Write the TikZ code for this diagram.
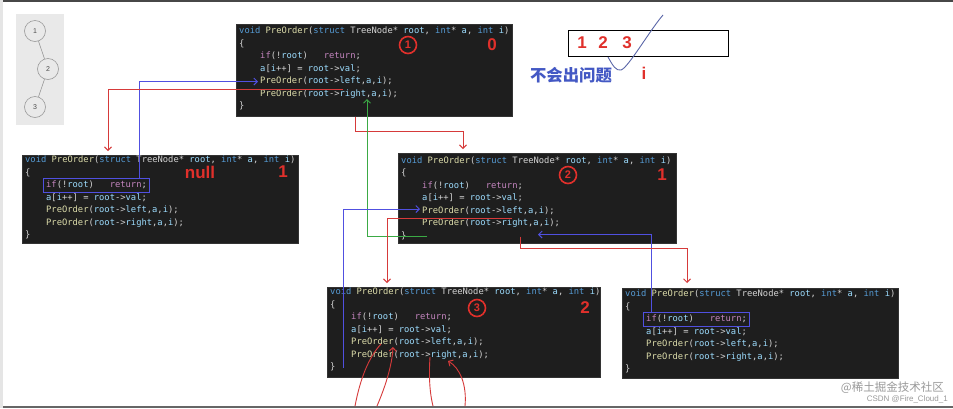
\documentclass[tikz,border=0pt]{standalone}
\usepackage{fontspec}
\setmainfont{Liberation Sans}
\setmonofont{DejaVu Sans Mono}
\newfontfamily\cjk{Noto Sans CJK SC}
\usetikzlibrary{arrows.meta,calc,fit}
\definecolor{codebg}{HTML}{1E1E1E}
\definecolor{ckwc}{HTML}{569CD6}
\definecolor{cfnc}{HTML}{DCDCAA}
\definecolor{cvarc}{HTML}{9CDCFE}
\definecolor{cctlc}{HTML}{C586C0}
\definecolor{ctxt}{HTML}{D4D4D4}
\definecolor{annred}{HTML}{E0302B}
\definecolor{linered}{HTML}{D63A3A}
\definecolor{lineblue}{HTML}{5050E0}
\definecolor{linegreen}{HTML}{3BAA45}
\definecolor{cjkblue}{HTML}{4358C4}
\definecolor{treegray}{HTML}{E9E9E9}
\definecolor{checkc}{HTML}{5A66A8}
\newcommand\ckw[1]{\textcolor{ckwc}{#1}}
\newcommand\cfn[1]{\textcolor{cfnc}{#1}}
\newcommand\cvar[1]{\textcolor{cvarc}{#1}}
\newcommand\cctl[1]{\textcolor{cctlc}{#1}}
\newcommand\codelines[2]{%
  \node[cl] (#1l0) at ([shift={(3,#2)}]#1.north west) {\ckw{void} \cfn{PreOrder}(\ckw{struct} TreeNode* \cvar{root}, \ckw{int}* \cvar{a}, \ckw{int} \cvar{i})};
  \node[cl] (#1l1) at ([shift={(3,#2+12.5)}]#1.north west) {\{};
  \node[cl] (#1l2) at ([shift={(24,#2+25)}]#1.north west) {\cctl{if}(!\cvar{root})\ \ \ \cctl{return};};
  \node[cl] (#1l3) at ([shift={(24,#2+37.5)}]#1.north west) {\cvar{a}[\cvar{i}++] = \cvar{root}->\cvar{val};};
  \node[cl] (#1l4) at ([shift={(24,#2+50)}]#1.north west) {\cfn{PreOrder}(\cvar{root}->\cvar{left},\cvar{a},\cvar{i});};
  \node[cl] (#1l5) at ([shift={(24,#2+62.5)}]#1.north west) {\cfn{PreOrder}(\cvar{root}->\cvar{right},\cvar{a},\cvar{i});};
  \node[cl] (#1l6) at ([shift={(3,#2+75)}]#1.north west) {\}};
}
\tikzset{
  codebox/.style={fill=codebg, draw=black!80, line width=0.6pt, anchor=north west, inner sep=0pt, minimum width=276pt, minimum height=90pt},
  cl/.style={anchor=west, inner sep=0pt, text=ctxt, text height=6.5pt, text depth=1.8pt, font=\ttfamily\fontsize{8.8}{10}\selectfont},
  hlbox/.style={draw=lineblue, line width=1pt, inner xsep=2.5pt, inner ysep=3pt},
  circnum/.style={circle, draw=annred, line width=1.6pt, minimum size=17pt, inner sep=0pt, text=annred, font=\bfseries\fontsize{11}{11}\selectfont},
  bignum/.style={text=annred, font=\bfseries\fontsize{17}{17}\selectfont, inner sep=0pt},
  tnode/.style={circle, draw=black!40, line width=0.6pt, minimum size=21pt, inner sep=0pt, text=black!70, font=\fontsize{7}{7}\selectfont},
  arrowtip/.style={-{Straight Barb[length=3.5pt,width=7pt,line width=1pt]}},
  connr/.style={draw=linered, line width=1pt, arrowtip},
  connb/.style={draw=lineblue, line width=1pt, arrowtip},
  conng/.style={draw=linegreen, line width=1pt, arrowtip},
  hand/.style={draw=linered, line width=0.9pt}
}
\begin{document}
\begin{tikzpicture}[x=1pt,y=-1pt]
\path[use as bounding box] (0,0) rectangle (953,408);
\fill[white] (0,0) rectangle (953,408);
\fill[black!72] (0,0) rectangle (953,2);
\fill[black!60] (0,405.5) rectangle (953,408);
\fill[black!10] (0,0) rectangle (2.5,408);

% tree panel
\fill[treegray] (16,14) rectangle (64,125);
\node[tnode] (t1) at (35,31) {1};
\node[tnode] (t2) at (48,69) {2};
\node[tnode] (t3) at (35,107) {3};
\draw[black!40, line width=0.6pt] (t1) -- (t2) (t2) -- (t3);

% code boxes
\node[codebox, minimum height=92pt] (top) at (236,24) {};
\node[codebox, minimum height=88pt] (lbox) at (22,155) {};
\node[codebox, minimum width=278pt] (mbox) at (398,153) {};
\node[codebox, minimum width=273pt] (bmid) at (327,287) {};
\node[codebox] (rbox) at (622,288) {};
\codelines{top}{7.5}
\codelines{lbox}{5.5}
\codelines{mbox}{8}
\codelines{bmid}{5.5}
\codelines{rbox}{6.5}

% highlight boxes
\node[hlbox, fit=(lboxl2)] (lhl) {};
\node[hlbox, fit=(rboxl2)] (rhl) {};

% annotations
\node[circnum] (c1) at (408,45) {1};
\node[bignum] (n0) at (492,45) {0};
\node[bignum] (nnull) at (200,172) {null};
\node[bignum] (n1a) at (283,172) {1};
\node[circnum] (c2) at (568,175) {2};
\node[bignum] (n1b) at (662,175) {1};
\node[circnum] (c3) at (477,308) {3};
\node[bignum] (n2) at (585,308) {2};

% array
\node[draw=black, line width=1.3pt, anchor=north west, minimum width=160pt, minimum height=26pt, inner sep=0pt] (arr) at (568,30) {};
\node[bignum] (a1) at (582,43) {1};
\node[bignum] (a2) at (603,43) {2};
\node[bignum] (a3) at (627,43) {3};
\node[bignum] (ai) at (644,73) {i};
\node[text=cjkblue, font=\cjk\bfseries\fontsize{16.4}{16.4}\selectfont, inner sep=0pt] (ok) at (571,75) {不会出问题};
\draw[checkc, line width=0.9pt] (608,57) .. controls (613,66) and (616,71) .. (621,70) .. controls (628,68) and (650,30) .. (663,15);

% connectors
\draw[connb] ([xshift=96pt]lhl.north west) |- ([xshift=-2pt]topl4.west);
\draw[connr] ([shift={(83,8)}]topl4.west) -| ([shift={(86,-4)}]lbox.north west);
\draw[connr] ([xshift=119pt]top.south west) -- ++(0,15) -| ([shift={(65,-4)}]mbox.north west);
\draw[conng] ([xshift=26pt]mboxl6.west) -| ([shift={(107,5)}]topl5.west);
\draw[connb] ([xshift=13pt]bmidl6.west) |- ([shift={(-2,-2)}]mboxl4.west);
\draw[connr] ([shift={(90,7)}]mboxl4.west) -| ([shift={(60,-4)}]bmid.north west);
\draw[connb] ([xshift=8.5pt]rhl.north west) |- ([shift={(116,11)}]mboxl5.west);
\draw[connr] ([shift={(98,13)}]mboxl5.west) -- ++(0,11.5) -| ([shift={(65,-5)}]rbox.north west);

% hand-drawn arrows under the bottom box
\draw[hand] (355,406) .. controls (360,380) and (368,358) .. (381,344);
\draw[hand, arrowtip] (377,406) .. controls (386,385) and (392,365) .. (393,347);
\draw[hand] (433,406) .. controls (429,390) and (429,372) .. (430,357);
\draw[hand, arrowtip] (465,406) .. controls (467,385) and (460,368) .. (448,361);

% watermark
\node[anchor=east, text=black!40, font=\cjk\fontsize{11.5}{11.5}\selectfont, inner sep=0pt] (wm1) at (944,388) {@稀土掘金技术社区};
\node[anchor=east, text=black!40, font=\fontsize{8}{8}\selectfont, inner sep=0pt] (wm2) at (948,399) {CSDN @Fire\_Cloud\_1};
\end{tikzpicture}
\end{document}
